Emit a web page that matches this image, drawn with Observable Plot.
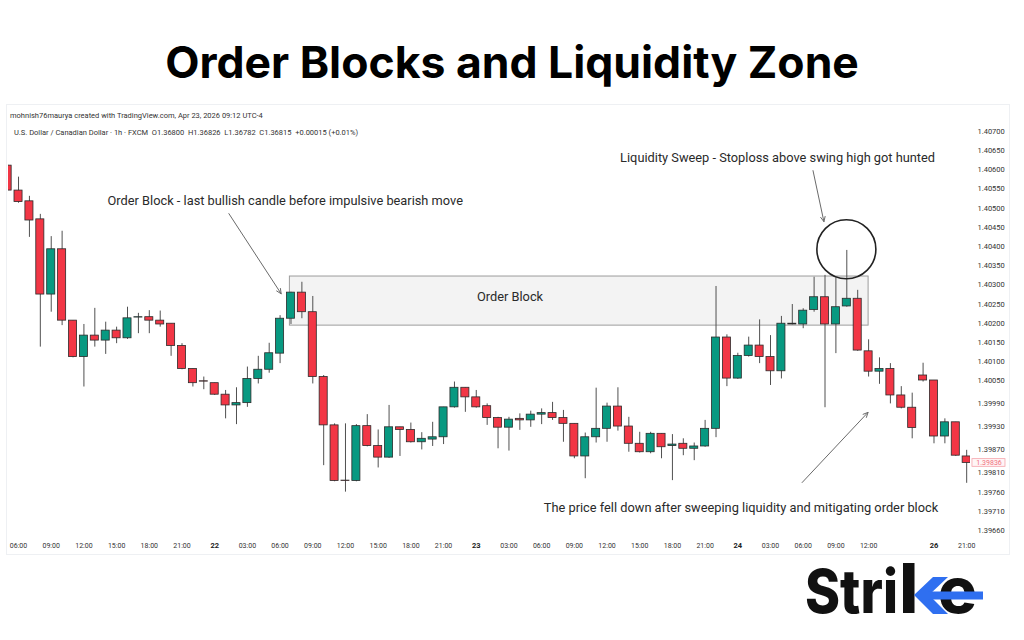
<!DOCTYPE html>
<html><head><meta charset="utf-8">
<script src="https://cdn.jsdelivr.net/npm/d3@7"></script>
<script src="https://cdn.jsdelivr.net/npm/@observablehq/plot@0.6"></script>
<style>
html,body{margin:0;padding:0;background:#fff;width:1024px;height:640px;overflow:hidden;font-family:Roboto,"Noto Sans",sans-serif;}
#title{position:absolute;left:0;top:34px;width:1024px;text-align:center;font-family:Inter,sans-serif;font-weight:700;font-size:44.5px;line-height:56px;color:#000;}
#pane{position:absolute;left:6px;top:104px;width:1004px;height:451px;border:1px solid #eef0f3;box-sizing:border-box;}
#credit{position:absolute;left:10px;top:111px;font-size:7.5px;color:#333;}
#legend{position:absolute;left:14px;top:128px;font-size:7.5px;color:#333;white-space:pre;}
#chart{position:absolute;left:0;top:100px;}
#logo{position:absolute;left:800px;top:544px;}
</style></head>
<body>
<div id="title">Order Blocks and Liquidity Zone</div>
<div id="pane"></div>
<div id="credit">mohnish76maurya created with TradingView.com, Apr 23, 2026 09:12 UTC-4</div>
<div id="legend">U.S. Dollar / Canadian Dollar · 1h · FXCM  O1.36800  H1.36826  L1.36782  C1.36815  +0.00015 (+0.01%)</div>
<div id="chart"></div>
<svg id="logo" width="210" height="92" viewBox="0 0 210 92">
  <text x="5" y="69" font-family="Inter, sans-serif" font-weight="800" font-size="60" fill="#111" textLength="93" lengthAdjust="spacingAndGlyphs">Stri</text>
  <rect x="103" y="19" width="11.5" height="50" fill="#111"/>
  <text x="138" y="69" font-family="Inter, sans-serif" font-weight="800" font-size="64" fill="#111" textLength="39" lengthAdjust="spacingAndGlyphs">e</text>
  <polygon points="114,51 133,33 148,33 129,51 148,70 133,70" fill="#2f6ff0"/>
  <rect x="128" y="47.5" width="55" height="8" fill="#2f6ff0"/>
</svg>
<script>
// ---- data: USD/CAD hourly candles ----
const open = [1.40611,1.40546,1.40518,1.40471,1.40275,1.40393,1.40207,1.40112,1.40168,1.40155,1.40181,1.40161,1.40215,1.40216,1.40207,1.40199,1.40141,1.40081,1.40049,1.40044,1.40014,1.39986,1.39992,1.40055,1.40079,1.40121,1.40212,1.40280,1.40229,1.40060,1.39934,1.39790,1.39789,1.39932,1.39880,1.39850,1.39929,1.39922,1.39890,1.39897,1.39903,1.39981,1.40032,1.40007,1.39984,1.39953,1.39928,1.39951,1.39947,1.39962,1.39966,1.39953,1.39938,1.39853,1.39903,1.39925,1.39983,1.39931,1.39886,1.39864,1.39912,1.39880,1.39886,1.39873,1.39879,1.39925,1.40163,1.40056,1.40115,1.40142,1.40112,1.40075,1.40197,1.40197,1.40235,1.40268,1.40197,1.40244,1.40264,1.40127,1.40074,1.40081,1.40012,1.39980,1.40064,1.40051,1.39905,1.39942,1.39853];
const high = [1.40613,1.40581,1.40531,1.40484,1.40426,1.40440,1.40207,1.40197,1.40239,1.40203,1.40190,1.40242,1.40226,1.40233,1.40232,1.40199,1.40147,1.40081,1.40060,1.40044,1.40025,1.40032,1.40086,1.40114,1.40148,1.40220,1.40281,1.40307,1.40270,1.40064,1.39938,1.39938,1.39936,1.39962,1.39922,1.39986,1.39929,1.39940,1.39915,1.39942,1.39981,1.40047,1.40032,1.40025,1.39990,1.39955,1.39955,1.39964,1.39971,1.39977,1.39994,1.39973,1.39938,1.39914,1.40031,1.39992,1.40032,1.39955,1.39916,1.39916,1.39912,1.39910,1.39899,1.39888,1.39947,1.40296,1.40170,1.40122,1.40164,1.40209,1.40168,1.40218,1.40249,1.40238,1.40320,1.40325,1.40319,1.40390,1.40286,1.40157,1.40110,1.40095,1.40035,1.40018,1.40096,1.40051,1.39951,1.39942,1.39869];
const low = [1.40546,1.40513,1.40424,1.40138,1.40229,1.40194,1.40110,1.40034,1.40138,1.40119,1.40147,1.40158,1.40173,1.40173,1.40190,1.40114,1.40079,1.40034,1.40027,1.40012,1.39951,1.39936,1.39981,1.40042,1.40070,1.40095,1.40197,1.40212,1.40042,1.39829,1.39787,1.39760,1.39787,1.39878,1.39823,1.39848,1.39853,1.39888,1.39870,1.39879,1.39884,1.39979,1.39968,1.39979,1.39934,1.39873,1.39867,1.39921,1.39929,1.39936,1.39947,1.39890,1.39847,1.39795,1.39888,1.39890,1.39919,1.39864,1.39862,1.39860,1.39847,1.39790,1.39855,1.39842,1.39877,1.39902,1.40035,1.40054,1.40112,1.40095,1.40038,1.40055,1.40196,1.40186,1.40229,1.39980,1.40121,1.40242,1.40127,1.40060,1.40041,1.39990,1.39977,1.39899,1.40047,1.39886,1.39886,1.39853,1.39783];
const close = [1.40546,1.40516,1.40468,1.40275,1.40393,1.40207,1.40112,1.40168,1.40155,1.40181,1.40161,1.40213,1.40216,1.40207,1.40197,1.40141,1.40081,1.40044,1.40048,1.40014,1.39986,1.39992,1.40055,1.40079,1.40122,1.40212,1.40280,1.40229,1.40060,1.39934,1.39789,1.39789,1.39932,1.39880,1.39850,1.39929,1.39922,1.39890,1.39899,1.39903,1.39981,1.40032,1.40007,1.39981,1.39953,1.39928,1.39949,1.39947,1.39962,1.39966,1.39953,1.39938,1.39853,1.39903,1.39925,1.39983,1.39931,1.39886,1.39864,1.39912,1.39877,1.39884,1.39873,1.39879,1.39925,1.40163,1.40056,1.40115,1.40142,1.40112,1.40075,1.40199,1.40199,1.40233,1.40268,1.40197,1.40242,1.40264,1.40129,1.40074,1.40081,1.40012,1.39980,1.39927,1.40051,1.39905,1.39942,1.39855,1.39836];

// time axis (bar index -> label)
const timeTickIdx = [1,4,7,10,13,16,22,25,28,31,34,37,40,46,49,52,55,58,61,64,70,73,76,79,88];
const timeTickLabels = ["06:00","09:00","12:00","15:00","18:00","21:00","03:00","06:00","09:00","12:00","15:00","18:00","21:00","03:00","06:00","09:00","12:00","15:00","18:00","21:00","03:00","06:00","09:00","12:00","21:00"];
const dayTickIdx = [19,43,67,85];
const dayTickLabels = ["22","23","24","26"];

// price axis labels
const priceTicks = [1.40700,1.40650,1.40600,1.40550,1.40500,1.40450,1.40400,1.40350,1.40300,1.40250,1.40200,1.40150,1.40100,1.40050,1.39990,1.39930,1.39870,1.39810,1.39760,1.39710,1.39660];

// annotations (data coordinates: bar index, price)
const orderBlock = [{from:25.9, to:79, top:1.40322, bottom:1.40194, label:"Order Block", lx:46.1, ly:1.40270}];
const notes = [
  {x:9.17, y:1.40518, text:"Order Block - last bullish candle before impulsive bearish move"},
  {x:56.2, y:1.40632, text:"Liquidity Sweep - Stoploss above swing high got hunted"},
  {x:49.2, y:1.39720, text:"The price fell down after sweeping liquidity and mitigating order block"}
];
const arrows = [
  {x1:20.3, y1:1.40486, x2:25.1, y2:1.40277},
  {x1:73.9, y1:1.40598, x2:74.9, y2:1.40465},
  {x1:72.9, y1:1.39785, x2:78.95, y2:1.39968}
];
const sweep = [{x:76.96, y:1.40393}];

const GREEN = "#089981", RED = "#f23645";
const candles = open.map((o,i)=>({i, o, h:high[i], l:low[i], c:close[i], up: close[i] >= o}));
const last = candles[candles.length-1];
const fmt = d3.format(".5f");

const chart = Plot.plot({
  width: 1024, height: 460,
  marginLeft: 8, marginRight: 54, marginTop: 31, marginBottom: 30,
  x: {type:"linear", domain:[0.08, 88.35], axis:null},
  y: {type:"linear", domain:[1.3966, 1.4070], axis:null},
  style: {fontFamily:"Roboto, 'Noto Sans', sans-serif", background:"transparent"},
  marks: [
    Plot.rect(orderBlock, {x1:"from", x2:"to", y1:"bottom", y2:"top", fill:"#f3f3f3", stroke:"#9c9c9c", strokeWidth:1}),
    Plot.text(orderBlock, {x:"lx", y:"ly", text:"label", fontSize:12.8, fill:"#2a2a2a"}),
    Plot.ruleX(candles, {x:"i", y1:"l", y2:"h", stroke:"#505050", strokeWidth:1, clip:true}),
    Plot.rect(candles, {x1:d=>d.i-0.37, x2:d=>d.i+0.37, y1:"o", y2:"c", fill:d=>d.up?GREEN:RED, stroke:"#2b2b2b", strokeWidth:0.8, clip:true}),
    Plot.dot(sweep, {x:"x", y:"y", r:29.5, stroke:"#222", strokeWidth:1.6, fill:"none"}),
    Plot.arrow(arrows, {x1:"x1", y1:"y1", x2:"x2", y2:"y2", stroke:"#6a6a6a", strokeWidth:1, headLength:8, headAngle:50}),
    Plot.text(notes, {x:"x", y:"y", text:"text", textAnchor:"start", fontSize:12.8, fill:"#2a2a2a"}),
    Plot.axisY(priceTicks, {anchor:"right", tickSize:0, tickPadding:7, fontSize:7.5, tickFormat:fmt, textAnchor:"start", fill:"#333", label:null}),
    Plot.text(timeTickIdx, {x:d=>d, text:(d,i)=>timeTickLabels[i], frameAnchor:"bottom", dy:17, fontSize:7, fill:"#333"}),
    Plot.text(dayTickIdx, {x:d=>d, text:(d,i)=>dayTickLabels[i], frameAnchor:"bottom", dy:17, fontSize:7.5, fontWeight:"bold", fill:"#222"}),
    Plot.rect([last], {x1:88.53, x2:91.56, y1:d=>d.c+0.0001, y2:d=>d.c-0.0001, fill:"#fff5f6", stroke:"#f5a3ab", strokeWidth:0.8}),
    Plot.text([last], {x:90.05, y:"c", text:d=>fmt(d.c), fontSize:7, fill:"#f0707c"})
  ]
});
document.getElementById("chart").appendChild(chart);
</script>
</body></html>
